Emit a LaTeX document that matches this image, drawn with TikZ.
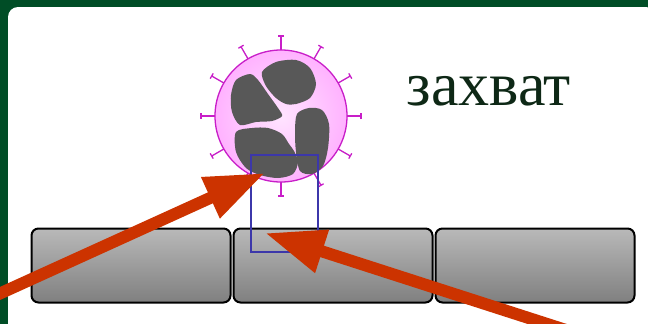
\documentclass[tikz,border=0pt]{standalone}
\usepackage{fontspec}
\setmainfont{Liberation Serif}
\usepackage{tikz}
\usetikzlibrary{arrows.meta,positioning}

\definecolor{slide}{RGB}{0,77,38}
\definecolor{ink}{RGB}{14,40,22}
\definecolor{rust}{RGB}{204,51,0}
\definecolor{lilac}{RGB}{200,30,200}
\definecolor{zonec}{RGB}{60,55,170}

\begin{document}
\begin{tikzpicture}[x=1pt, y=-1pt, >={Triangle[length=60pt,width=42pt]}]
\tikzstyle{epi}=[draw=black, line width=2pt, rounded corners=7pt, minimum width=199pt, minimum height=74pt, top color=gray!55, bottom color=gray];
\tikzstyle{wbc}=[draw=lilac, line width=1.3pt, circle, minimum size=132pt, inner color={rgb,255:red,255;green,228;blue,255}, outer color={rgb,255:red,255;green,178;blue,255}];
\tikzstyle{nucleus}=[fill={rgb,255:red,88;green,88;blue,88}];
\tikzstyle{spike}=[draw=lilac, line width=1.3pt];
\tikzstyle{zone}=[draw=zonec, line width=1.5pt, minimum width=67pt, minimum height=97pt];
\tikzstyle{pointer}=[color=rust, line width=12pt, ->];
\clip (0,0) rectangle (648,324);
% slide frame
\fill[slide] (0,0) rectangle (648,324);
\fill[white, rounded corners=10pt] (8,7) rectangle (656,336);
% epithelium
\node[epi] (cellA) at (131,265.5) {};
\node[epi, right=1pt of cellA] (cellB) {};
\node[epi, right=1pt of cellB] (cellC) {};
% leukocyte
\node[wbc] (wbc) at (281,116) {};
\begin{scope}[shift={(wbc.center)}]
\foreach \a in {90,120,...,420}
  \draw[spike] (\a:66) -- (\a:80) ++(\a+90:3) -- ++(\a-90:6);
\end{scope}
\fill[nucleus] plot[smooth cycle] coordinates {(262,72) (276,62) (296,60) (310,68) (316,84) (310,98) (296,104) (286,104) (276,98) (266,86)};
\fill[nucleus] plot[smooth cycle] coordinates {(236,80) (250,74) (258,80) (268,94) (278,108) (282,116) (272,121) (256,122) (240,125) (232,112) (231,95)};
\fill[nucleus] plot[smooth cycle] coordinates {(297,114) (309,108) (322,110) (329,124) (328,148) (323,166) (312,174) (300,171) (296,152) (295,132)};
\fill[nucleus] plot[smooth cycle] coordinates {(236,132) (252,128) (268,128) (282,134) (289,144) (294,151) (298,162) (293,174) (278,178) (260,175) (246,168) (236,152)};
\node[zone] (catch) at (284.5,203.5) {};
\node[anchor=base west, text=ink, font=\fontsize{62}{62}\selectfont] (word) at (403,105) {захват};
% arrows
\coordinate (tailA) at (-10,298);
\coordinate (hitA) at (265,173);
\coordinate (tailB) at (600,341);
\coordinate (hitB) at (265,233);
\path[pointer] (tailA) edge (hitA);
\path[pointer] (tailB) edge (hitB);
\end{tikzpicture}
\end{document}
